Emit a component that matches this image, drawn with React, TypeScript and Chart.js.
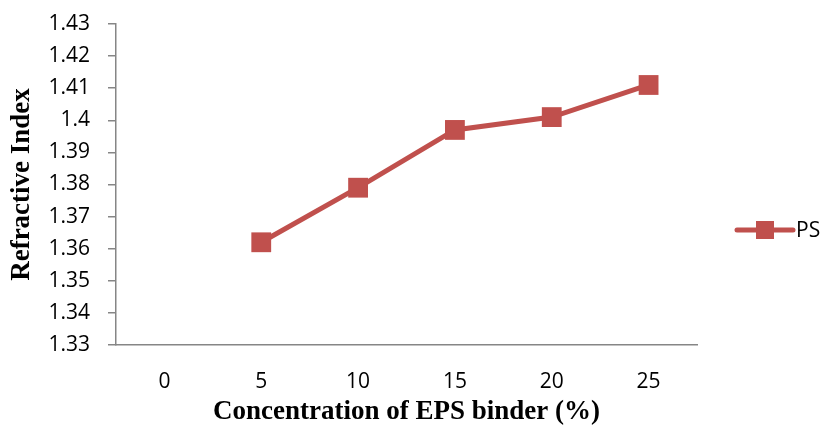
import React, { useEffect, useRef } from "react";
import { Chart, registerables } from "chart.js";

Chart.register(...registerables);

const categories = ["0", "5", "10", "15", "20", "25"];
const psValues: (number | null)[] = [null, 1.362, 1.379, 1.397, 1.401, 1.411];
const seriesName = "PS";
const yTitle = "Refractive Index";
const xTitle = "Concentration of EPS binder (%)";
const yMin = 1.33;
const yMax = 1.43;
const yStep = 0.01;

const RED = "#c0504d";
const AXIS = "#868686";
const TICK_FONT = { family: "'Open Sans', 'Noto Sans', sans-serif", size: 21 };
const TITLE_FONT = { family: "'Liberation Serif', 'DejaVu Serif', serif", size: 27, weight: "bold" as const };

const legendPlugin = {
  id: "sideLegend",
  afterDraw(chart: any) {
    const { ctx, chartArea } = chart;
    const x0 = chartArea.right + 40;
    const x1 = x0 + 56;
    const y = 230;
    ctx.save();
    ctx.strokeStyle = RED;
    ctx.lineWidth = 5;
    ctx.lineCap = "round";
    ctx.beginPath();
    ctx.moveTo(x0, y);
    ctx.lineTo(x1, y);
    ctx.stroke();
    ctx.fillStyle = RED;
    ctx.fillRect((x0 + x1) / 2 - 9, y - 9, 18, 18);
    ctx.fillStyle = "#000";
    ctx.font = `${TICK_FONT.size}px ${TICK_FONT.family}`;
    ctx.textBaseline = "middle";
    ctx.textAlign = "left";
    ctx.fillText(seriesName, x1 + 3, y + 1);
    ctx.restore();
  },
};

export default function App() {
  const ref = useRef<HTMLCanvasElement | null>(null);
  useEffect(() => {
    document.body.style.margin = "0";
    if (!ref.current) return;
    const chart = new Chart(ref.current, {
      type: "line",
      data: {
        labels: categories,
        datasets: [
          {
            label: seriesName,
            data: psValues,
            borderColor: RED,
            backgroundColor: RED,
            borderWidth: 5,
            pointStyle: "rect",
            pointRadius: 14,
            pointHoverRadius: 14,
            pointBorderWidth: 0,
            pointBackgroundColor: RED,
            spanGaps: false,
            clip: false,
          },
        ],
      },
      options: {
        responsive: false,
        animation: false,
        layout: { autoPadding: false, padding: { left: 6, right: 125, top: 24, bottom: 0 } },
        plugins: { legend: { display: false }, tooltip: { enabled: false } },
        scales: {
          x: {
            offset: true,
            grid: { drawOnChartArea: false, drawTicks: false },
            border: { color: AXIS, width: 1.5 },
            ticks: { color: "#000", font: TICK_FONT, padding: 24 },
            title: { display: true, text: xTitle, color: "#000", font: TITLE_FONT, padding: { top: -2, bottom: 0 } },
            afterFit(scale: any) {
              scale.height = 83;
            },
          },
          y: {
            min: yMin,
            max: yMax,
            ticks: {
              stepSize: yStep,
              color: "#000",
              font: TICK_FONT,
              padding: 18,
              callback: (v: any) => String(Number(Number(v).toFixed(2))),
            },
            grid: { drawOnChartArea: false, drawTicks: true, tickLength: 8, color: AXIS, lineWidth: 1.5 },
            border: { color: AXIS, width: 1.5 },
            title: { display: true, text: yTitle, color: "#000", font: TITLE_FONT, padding: 0 },
            afterFit(scale: any) {
              scale.width = 110;
              scale.paddingTop = 12;
              scale.paddingBottom = 12;
            },
          },
        },
      },
      plugins: [legendPlugin],
    });
    return () => chart.destroy();
  }, []);
  return (
    <div style={{ position: "fixed", left: 0, top: 0, width: 822, height: 428, background: "#fff" }}>
      <canvas ref={ref} width={822} height={428} style={{ width: 822, height: 428 }} />
    </div>
  );
}
